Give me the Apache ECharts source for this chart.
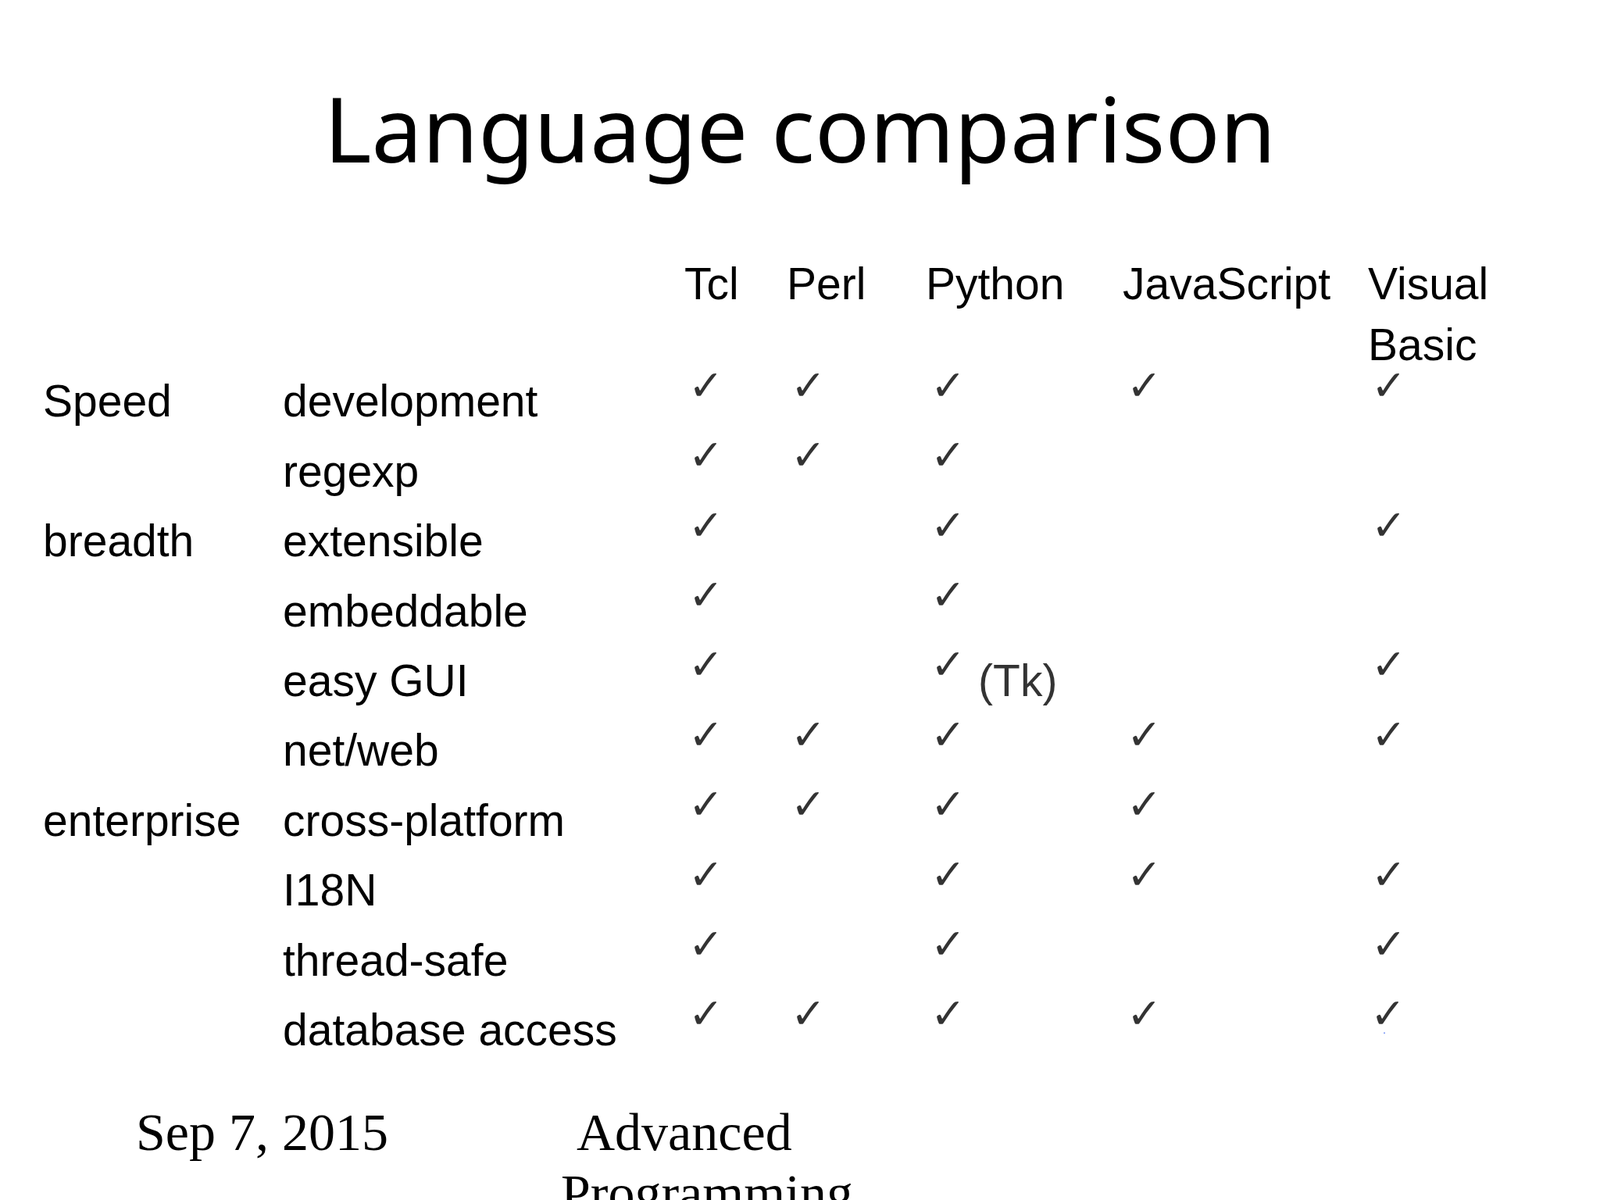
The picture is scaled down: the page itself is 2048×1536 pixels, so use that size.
<!DOCTYPE html>
<html><head><meta charset="utf-8">
<script src="https://cdn.jsdelivr.net/npm/echarts@6/dist/echarts.min.js"></script>
<style>html,body{margin:0;padding:0;background:#fff}#main{width:2048px;height:1536px}</style>
</head><body><div id="main"></div>
<script>
// 数据
var languages = ['Tcl', 'Perl', 'Python', 'JavaScript', 'Visual\nBasic'];
var features = ['development', 'regexp', 'extensible', 'embeddable', 'easy GUI',
    'net/web', 'cross-platform', 'I18N', 'thread-safe', 'database access'];
var groups = ['Speed', '', 'breadth', '', '', '', 'enterprise', '', '', ''];
// 每行支持的语言 (1 = ✓)
var support = [
    [1, 1, 1, 1, 1],
    [1, 1, 1, 0, 0],
    [1, 0, 1, 0, 1],
    [1, 0, 1, 0, 0],
    [1, 0, 1, 0, 1],
    [1, 1, 1, 1, 1],
    [1, 1, 1, 1, 0],
    [1, 0, 1, 1, 1],
    [1, 0, 1, 0, 1],
    [1, 1, 1, 1, 1]
];
var notes = {'4,2': '(Tk)'};

// 版面: 每列左边位置(像素)
var colX = [898, 1029, 1208, 1459, 1772];
var headX = [876, 1007, 1185, 1437, 1751];

var points = [];
support.forEach(function (row, r) {
    row.forEach(function (v, c) {
        if (v) points.push({value: [colX[c], features[r]], note: notes[r + ',' + c] || ''});
    });
});

var chart = echarts.init(document.getElementById('main'));
chart.setOption({
    backgroundColor: '#fff',
    animation: false,
    title: {
        text: 'Language comparison', left: 'center', top: 112,
        textStyle: {fontFamily: 'Noto Sans', fontWeight: 'normal', fontSize: 116, color: '#000'}
    },
    grid: {left: 0, right: 0, top: 473, bottom: 169},
    xAxis: {type: 'value', min: 0, max: 2048, show: false},
    yAxis: [{
        type: 'category', data: features, inverse: true,
        axisLine: {show: false}, axisTick: {show: false}, splitLine: {show: false},
        axisLabel: {align: 'left', margin: -362, fontFamily: 'Liberation Sans', fontSize: 57, color: '#000'}
    }, {
        type: 'category', data: groups, inverse: true, position: 'left',
        axisLine: {show: false}, axisTick: {show: false}, splitLine: {show: false},
        axisLabel: {align: 'left', margin: -55, interval: 0, fontFamily: 'Liberation Sans', fontSize: 57, color: '#000'}
    }],
    graphic: languages.map(function (l, i) {
        return {type: 'text', left: headX[i], top: 328,
            style: {text: l, font: '57px "Liberation Sans"', fill: '#000', lineHeight: 78}};
    }).concat([
        {type: 'text', left: 174, top: 1420, style: {text: 'Sep 7, 2015', font: '68px "Liberation Serif"', fill: '#000'}},
        {type: 'text', left: 738, top: 1420, style: {text: 'Advanced', font: '68px "Liberation Serif"', fill: '#000'}},
        {type: 'text', left: 718, top: 1498, style: {text: 'Programming', font: '68px "Liberation Serif"', fill: '#000'}}
    ]),
    series: [{
        type: 'scatter', symbolSize: 0, data: points,
        label: {
            show: true, position: 'insideLeft', offset: [-22, -20], color: '#000',
            formatter: function (p) { return '{c|✓}' + (p.data.note ? '{n| ' + p.data.note + '}' : ''); },
            rich: {
                c: {fontFamily: 'DejaVu Sans', fontSize: 54, fontWeight: 'bold', color: '#000'},
                n: {fontFamily: 'Liberation Sans', fontSize: 57, color: '#000', padding: [40, 0, 0, 0]}
            }
        }
    }]
});
</script></body></html>
